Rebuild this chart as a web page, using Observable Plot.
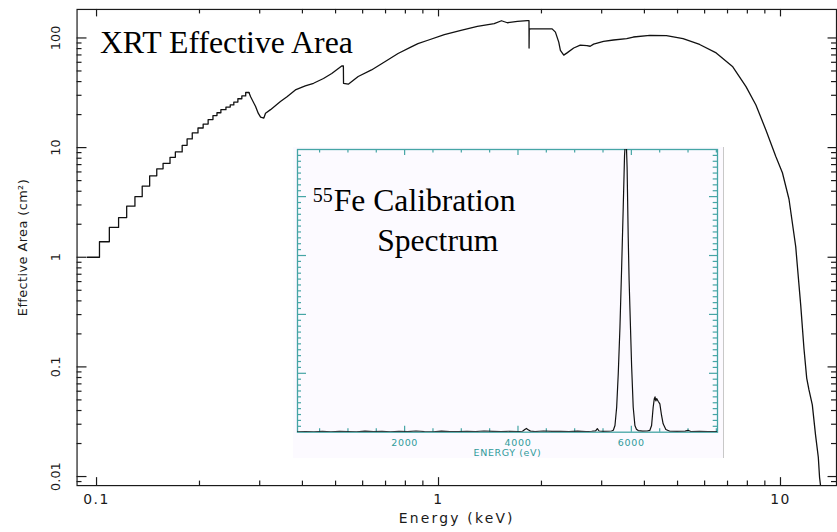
<!DOCTYPE html>
<html>
<head>
<meta charset="utf-8">
<script src="https://cdn.jsdelivr.net/npm/d3@7"></script>
<script src="https://cdn.jsdelivr.net/npm/@observablehq/plot@0.6"></script>
<style>
  body { margin: 0; background: #fff; }
  #chart { position: relative; width: 837px; height: 532px; overflow: hidden; background: #fff; }
  #inset { position: absolute; left: 293px; top: 147px; width: 431px; height: 311px; overflow: hidden; background: #fcfaff; }
  #inset::after { content: ""; position: absolute; right: 0; top: 0; width: 1px; height: 100%; background: #c8c8c8; }
  svg { display: block; }
</style>
</head>
<body>
<div id="chart"><div id="main"></div><div id="inset"></div></div>
<script>
// XRT effective area (cm^2) versus photon energy (keV).
// Low-energy part is binned (drawn as steps).
const stepEnergy = [0.094, 0.102, 0.109, 0.116, 0.1225, 0.1295, 0.136, 0.143, 0.150, 0.1565,
  0.164, 0.170, 0.178, 0.184, 0.1905, 0.198, 0.205, 0.212, 0.219, 0.225,
  0.231, 0.239, 0.246, 0.252, 0.259, 0.266, 0.273, 0.279];
const stepArea = [1.0, 1.385, 1.87, 2.30, 2.92, 3.57, 4.46, 5.53, 6.40, 7.17,
  8.16, 9.13, 10.5, 12.0, 13.6, 15.1, 16.4, 18.0, 19.6, 20.8,
  22.2, 23.4, 24.5, 26.0, 27.9, 29.6, 31.8, 31.8];

// Remainder of the response curve: C, O, Si and Au-M edges and the high-energy cutoff.
const curveEnergy = [0.279, 0.2822, 0.2918, 0.2970, 0.3018, 0.3085, 0.3120, 0.3227, 0.3449, 0.3606,
  0.3814, 0.4077, 0.4311, 0.4609, 0.4873, 0.5211, 0.5270, 0.5275, 0.5447, 0.5823,
  0.6369, 0.6967, 0.7615, 0.8324, 0.8706, 0.931, 1.040, 1.163, 1.299, 1.455,
  1.528, 1.590, 1.701, 1.818, 1.839, 1.840, 1.842, 1.858, 2.149, 2.197,
  2.247, 2.272, 2.324, 2.376, 2.485, 2.597, 2.716, 2.777, 2.841, 3.038,
  3.249, 3.550, 3.713, 4.150, 4.640, 5.189, 5.801, 6.486, 7.253, 7.928,
  8.475, 9.064, 9.690, 10.13, 10.59, 11.08, 11.20, 11.46, 11.71, 11.93,
  12.11, 12.39, 12.66, 12.90, 13.01, 13.18];
const curveArea = [31.8, 29.1, 23.7, 20.6, 19.0, 18.6, 20.6, 22.2, 26.3, 29.1,
  33.6, 36.5, 38.6, 42.7, 47.4, 55.5, 55.5, 38.6, 37.9, 44.5,
  51.1, 60.6, 72.2, 83, 88.7, 95.3, 107.4, 117, 127.7, 135,
  143.5, 137.6, 141.8, 144, 144, 81, 120, 121, 121, 113,
  91.6, 77.1, 69.7, 73.1, 81, 86, 85, 84, 87.8, 93,
  95.8, 98.5, 102, 105.8, 105, 98.6, 87.2, 73.1, 54.6, 36,
  24.5, 14.5, 8.3, 5.9, 3.38, 1.25, 0.84, 0.364, 0.148, 0.079,
  0.062, 0.045, 0.024, 0.015, 0.0098, 0.007];

// Axis ticks of the main panel
const xMajor = [0.1, 1, 10];
const xTickLabels = ["0.1", "1", "10"];
const xMinor = [0.2, 0.3, 0.4, 0.5, 0.6, 0.7, 0.8, 0.9, 2, 3, 4, 5, 6, 7, 8, 9];
const yMajor = [0.01, 0.1, 1, 10, 100];
const yTickLabels = ["0.01", "0.1", "1", "10", "100"];
const yMinor = [0.009, 0.02, 0.03, 0.04, 0.05, 0.06, 0.07, 0.08, 0.09,
  0.2, 0.3, 0.4, 0.5, 0.6, 0.7, 0.8, 0.9, 2, 3, 4, 5, 6, 7, 8, 9,
  20, 30, 40, 50, 60, 70, 80, 90];

// 55Fe source spectrum: counts per channel versus energy (eV)
const specEnergy = [110, 250, 400, 550, 700, 850, 1000, 1150, 1300, 1450,
  1600, 1750, 1900, 2050, 2200, 2350, 2500, 2650, 2800, 2950,
  3100, 3250, 3400, 3550, 3700, 3850, 4000, 4080, 4120, 4150,
  4180, 4220, 4300, 4450, 4600, 4750, 4900, 5050, 5200, 5300,
  5370, 5400, 5430, 5500, 5600, 5650, 5682, 5711, 5741, 5769,
  5799, 5829, 5857, 5880, 5905, 5925, 5945, 5960, 5975, 6005,
  6033, 6063, 6090, 6121, 6200, 6280, 6327, 6357, 6385, 6405,
  6418, 6432, 6447, 6473, 6503, 6533, 6561, 6609, 6679, 6800,
  6950, 7000, 7050, 7200, 7350, 7520];
const specCounts = [4, 6, 3, 7, 4, 8, 5, 3, 9, 5,
  7, 4, 8, 5, 10, 6, 4, 9, 6, 5,
  8, 6, 10, 7, 5, 8, 6, 8, 22, 32,
  20, 9, 6, 10, 7, 8, 5, 9, 6, 8,
  12, 30, 10, 7, 8, 10, 16, 57, 212, 496,
  892, 1400, 1911, 2350, 2550, 2250, 1650, 1300, 1050, 560,
  212, 57, 25, 14, 9, 10, 16, 57, 212, 285,
  300, 265, 285, 263, 241, 142, 71, 23, 8, 7,
  9, 16, 6, 8, 5, 6];

const insetMajorX = [2000, 4000, 6000];
const insetTickLabels = ["2000", "4000", "6000"];
const insetMinorX = [500, 1000, 1500, 2500, 3000, 3500, 4500, 5000, 5500, 6500, 7000, 7500];
const insetMajorY = [500, 1000, 1500, 2000];
const insetMinorY = d3.range(50, 2400, 50).filter(v => v % 500 !== 0);

const stepRows = stepEnergy.map((e, i) => ({e, a: stepArea[i]}));
const curveRows = curveEnergy.map((e, i) => ({e, a: curveArea[i]}));
const specRows = specEnergy.map((e, i) => ({e, c: specCounts[i]}));

const ink = "#1a1a1a";
const sans = "DejaVu Sans";
const serif = "Liberation Serif";

// ---- main panel ----
const W = 842, H = 532, ML = 77, MR = 1, MT = 9, MB = 44;
const PW = W - ML - MR, PH = H - MT - MB;

const main = Plot.plot({
  width: W, height: H,
  marginLeft: ML, marginRight: MR, marginTop: MT, marginBottom: MB,
  style: {background: "transparent", overflow: "visible"},
  x: {type: "log", domain: [0.0877, 14.58], axis: null},
  y: {type: "log", domain: [0.00827, 182], axis: null},
  marks: [
    Plot.ruleX(xMajor, {x: d => d, insetTop: PH - 8, stroke: ink, strokeWidth: 1.2}),
    Plot.ruleX(xMinor, {x: d => d, insetTop: PH - 4.5, stroke: ink, strokeWidth: 1.2}),
    Plot.ruleX(xMajor, {x: d => d, insetBottom: PH - 7.5, stroke: ink, strokeWidth: 1.2}),
    Plot.ruleX(xMinor, {x: d => d, insetBottom: PH - 4.5, stroke: ink, strokeWidth: 1.2}),
    Plot.ruleY(yMajor, {y: d => d, insetRight: PW - 10, stroke: ink, strokeWidth: 1.2}),
    Plot.ruleY(yMinor, {y: d => d, insetRight: PW - 5, stroke: ink, strokeWidth: 1.2}),
    Plot.ruleY(yMajor, {y: d => d, insetLeft: PW - 8.5, stroke: ink, strokeWidth: 1.2}),
    Plot.ruleY(yMinor, {y: d => d, insetLeft: PW - 5, stroke: ink, strokeWidth: 1.2}),
    Plot.frame({stroke: ink, strokeWidth: 1.2}),
    Plot.line(stepRows, {x: "e", y: "a", curve: "step-after", stroke: "#111", strokeWidth: 1.3, clip: true}),
    Plot.line(curveRows, {x: "e", y: "a", stroke: "#111", strokeWidth: 1.3, clip: true}),
    Plot.text(xMajor, {x: d => d, text: (d, i) => xTickLabels[i], frameAnchor: "bottom", lineAnchor: "bottom",
      dy: 18.7, fontSize: 14, fontFamily: sans, fill: ink, ariaDescription: "x-tick-label"}),
    Plot.text(yMajor, {y: d => d, text: (d, i) => yTickLabels[i], frameAnchor: "left", textAnchor: "middle",
      dx: -21, rotate: -90, fontSize: 13, fontFamily: sans, fill: ink, ariaDescription: "y-tick-label"}),
    Plot.text(["Energy (keV)"], {frameAnchor: "bottom", lineAnchor: "bottom", dy: 38,
      fontSize: 14, fontFamily: sans, fill: ink, ariaDescription: "x-label"}),
    Plot.text(["Effective Area (cm²)"], {frameAnchor: "left", textAnchor: "middle", dx: -55, rotate: -90,
      fontSize: 13, fontFamily: sans, fill: ink, ariaDescription: "y-label"}),
    Plot.text(["XRT Effective Area"], {frameAnchor: "top-left", textAnchor: "start", lineAnchor: "bottom",
      dx: 23, dy: 43.7, fontSize: 32, fontFamily: serif, fill: "#000"})
  ]
});
document.getElementById("main").appendChild(main);

// ---- inset: 55Fe calibration spectrum ----
const IW = 431, IH = 311, IML = 4, IMR = 7, IMT = 2, IMB = 26.3;
const IPW = IW - IML - IMR, IPH = IH - IMT - IMB;
const teal = "#45a5a5", tealText = "#2f9a9a";

const inset = Plot.plot({
  width: IW, height: IH,
  marginLeft: IML, marginRight: IMR, marginTop: IMT, marginBottom: IMB,
  style: {background: "transparent", overflow: "visible"},
  x: {domain: [110, 7520], axis: null},
  y: {domain: [0, 2400], axis: null},
  marks: [
    Plot.ruleX(insetMajorX, {x: d => d, insetBottom: IPH - 6, stroke: teal, strokeWidth: 1.2}),
    Plot.ruleX(insetMinorX, {x: d => d, insetBottom: IPH - 3.5, stroke: teal, strokeWidth: 1.2}),
    Plot.ruleX(insetMajorX, {x: d => d, insetTop: IPH - 6, stroke: teal, strokeWidth: 1.2}),
    Plot.ruleX(insetMinorX, {x: d => d, insetTop: IPH - 3.5, stroke: teal, strokeWidth: 1.2}),
    Plot.ruleY(insetMajorY, {y: d => d, insetRight: IPW - 9, stroke: teal, strokeWidth: 1.2}),
    Plot.ruleY(insetMinorY, {y: d => d, insetRight: IPW - 4, stroke: teal, strokeWidth: 1.2}),
    Plot.ruleY(insetMajorY, {y: d => d, insetLeft: IPW - 8, stroke: teal, strokeWidth: 1.2}),
    Plot.ruleY(insetMinorY, {y: d => d, insetLeft: IPW - 4.3, stroke: teal, strokeWidth: 1.2}),
    Plot.frame({stroke: teal, strokeWidth: 1.3}),
    Plot.line(specRows, {x: "e", y: "c", stroke: "#111", strokeWidth: 1.2, clip: true}),
    Plot.text(insetMajorX, {x: d => d, text: (d, i) => insetTickLabels[i], frameAnchor: "bottom", lineAnchor: "bottom",
      dy: 13.3, fontSize: 9.5, fontFamily: sans, fill: tealText, ariaDescription: "inset-tick-label"}),
    Plot.text(["ENERGY (eV)"], {frameAnchor: "bottom", lineAnchor: "bottom", dy: 23.5,
      fontSize: 9.5, fontFamily: sans, fill: tealText, ariaDescription: "inset-x-label"}),
    Plot.text(["55"], {frameAnchor: "top-left", textAnchor: "start", lineAnchor: "bottom",
      dx: 15.3, dy: 52.2, fontSize: 20, fontFamily: serif, fill: "#000"}),
    Plot.text(["Fe Calibration"], {frameAnchor: "top-left", textAnchor: "start", lineAnchor: "bottom",
      dx: 36.3, dy: 61.7, fontSize: 31.6, fontFamily: serif, fill: "#000"}),
    Plot.text(["Spectrum"], {frameAnchor: "top-left", textAnchor: "start", lineAnchor: "bottom",
      dx: 79.7, dy: 101, fontSize: 31.6, fontFamily: serif, fill: "#000"})
  ]
});
document.getElementById("inset").appendChild(inset);

// Wide, evenly spaced lettering for the axis annotations
function spaceLetters(svg, label, px) {
  svg.querySelectorAll(`g[aria-description="${label}"] text`).forEach(t => {
    t.setAttribute("letter-spacing", px);
    t.style.letterSpacing = px + "px";
  });
}
spaceLetters(main, "x-tick-label", 1.5);
spaceLetters(main, "y-tick-label", 0);
spaceLetters(main, "x-label", 2.2);
spaceLetters(main, "y-label", 0.4);
spaceLetters(inset, "inset-tick-label", 0.7);
spaceLetters(inset, "inset-x-label", 0.6);
</script>
</body>
</html>
